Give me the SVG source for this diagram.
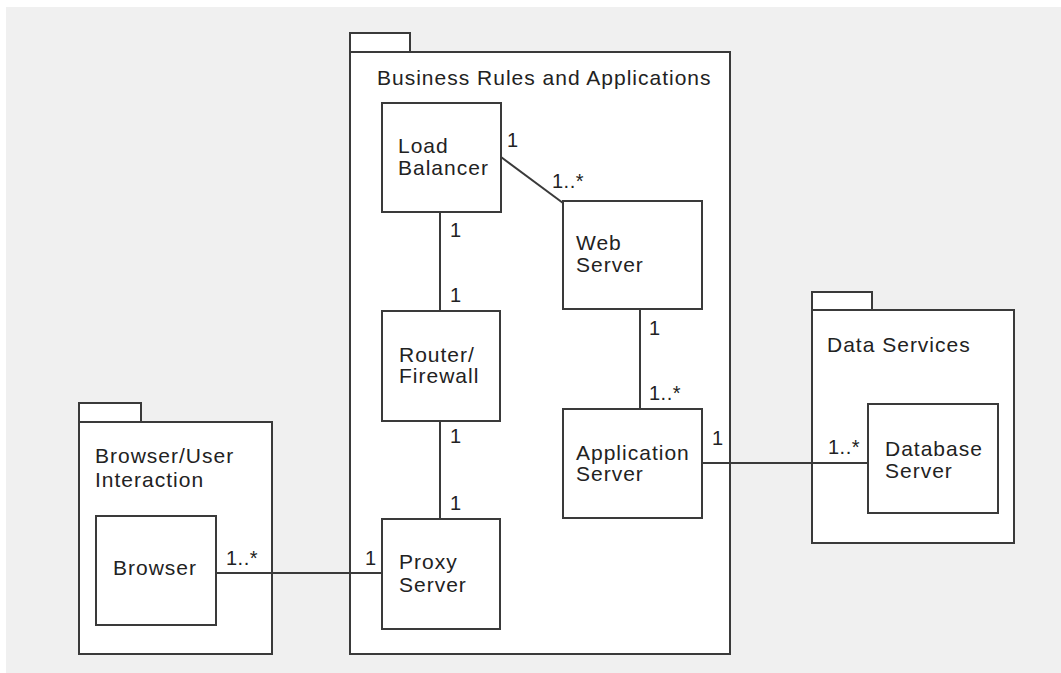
<svg xmlns="http://www.w3.org/2000/svg" width="1061" height="673" viewBox="0 0 1061 673">
  <style>
    .bg { fill: #f0f0f0; }
    .pkg, .node { fill: #ffffff; stroke: #3a3a3a; stroke-width: 2; }
    .link { stroke: #3a3a3a; stroke-width: 2; fill: none; }
    text { font-family: "Liberation Sans", Arial, sans-serif; font-size: 21px; fill: #222222; letter-spacing: 1px; }
    .mult { font-size: 20px; letter-spacing: 0.5px; }
  </style>

  <rect x="0" y="0" width="1061" height="673" fill="#ffffff"/>
  <rect class="bg" x="6" y="7" width="1055" height="666"/>

  <!-- Packages -->
  <g id="pkg-business">
    <rect class="pkg" x="350" y="33" width="60" height="19"/>
    <rect class="pkg" x="350" y="52" width="380" height="602"/>
    <text x="377" y="85">Business Rules and Applications</text>
  </g>
  <g id="pkg-browser">
    <rect class="pkg" x="79" y="403" width="62" height="19"/>
    <rect class="pkg" x="79" y="422" width="193" height="232"/>
    <text x="95" y="463">Browser/User</text>
    <text x="95" y="487">Interaction</text>
  </g>
  <g id="pkg-data">
    <rect class="pkg" x="812" y="292" width="60" height="18"/>
    <rect class="pkg" x="812" y="310" width="202" height="233"/>
    <text x="827" y="352">Data Services</text>
  </g>

  <!-- Connectors -->
  <g id="connectors">
    <line class="link" x1="501" y1="157" x2="563" y2="203"/>
    <line class="link" x1="440" y1="212" x2="440" y2="311"/>
    <line class="link" x1="440" y1="421" x2="440" y2="519"/>
    <line class="link" x1="640" y1="309" x2="640" y2="409"/>
    <line class="link" x1="702" y1="463" x2="868" y2="463"/>
    <line class="link" x1="216" y1="573" x2="382" y2="573"/>
    <text class="mult" x="507" y="147">1</text>
    <text class="mult" x="552" y="188">1..*</text>
    <text class="mult" x="450" y="237">1</text>
    <text class="mult" x="450" y="302">1</text>
    <text class="mult" x="450" y="443">1</text>
    <text class="mult" x="450" y="510">1</text>
    <text class="mult" x="649" y="335">1</text>
    <text class="mult" x="649" y="400">1..*</text>
    <text class="mult" x="712" y="445">1</text>
    <text class="mult" x="828" y="454">1..*</text>
    <text class="mult" x="226" y="565">1..*</text>
    <text class="mult" x="365" y="565">1</text>
  </g>

  <!-- Nodes -->
  <g id="load-balancer">
    <rect class="node" x="382" y="103" width="119" height="109"/>
    <text x="398" y="153">Load</text>
    <text x="398" y="175">Balancer</text>
  </g>
  <g id="web-server">
    <rect class="node" x="563" y="201" width="139" height="108"/>
    <text x="576" y="250">Web</text>
    <text x="576" y="272">Server</text>
  </g>
  <g id="router-firewall">
    <rect class="node" x="382" y="311" width="118" height="110"/>
    <text x="399" y="362">Router/</text>
    <text x="399" y="383">Firewall</text>
  </g>
  <g id="application-server">
    <rect class="node" x="563" y="409" width="139" height="109"/>
    <text x="576" y="460">Application</text>
    <text x="576" y="481">Server</text>
  </g>
  <g id="proxy-server">
    <rect class="node" x="382" y="519" width="118" height="110"/>
    <text x="399" y="569">Proxy</text>
    <text x="399" y="592">Server</text>
  </g>
  <g id="browser">
    <rect class="node" x="96" y="516" width="120" height="109"/>
    <text x="113" y="575">Browser</text>
  </g>
  <g id="database-server">
    <rect class="node" x="868" y="404" width="130" height="109"/>
    <text x="885" y="456">Database</text>
    <text x="885" y="478">Server</text>
  </g>
</svg>
